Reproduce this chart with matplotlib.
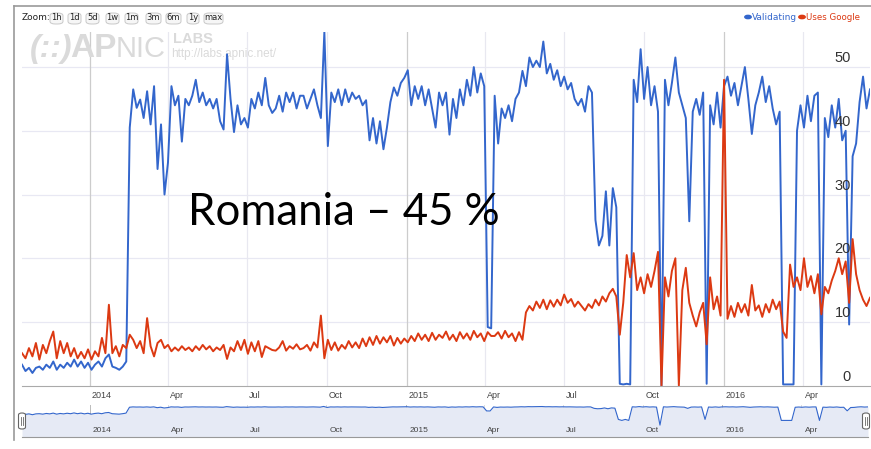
import numpy as np
import pandas as pd
import matplotlib
matplotlib.use("Agg")
import matplotlib.pyplot as plt
from matplotlib.patches import FancyBboxPatch, Circle
from matplotlib.lines import Line2D

# one reading every 4 days, starting mid October 2013
start_date = "2013-10-15"

validating = [
    3.3, 2.3, 2.8, 2.0, 2.8, 3.0, 2.5, 3.3, 2.8, 3.8,
    2.5, 3.3, 2.8, 3.6, 3.0, 4.1, 3.0, 3.8, 2.8, 3.6,
    2.5, 3.3, 3.8, 3.0, 4.3, 4.9, 3.0, 2.8, 2.5, 3.0,
    3.8, 40.5, 46.5, 43.6, 44.9, 42, 46.2, 41, 47, 34, 41,
    30, 35, 47, 44, 45.5, 38.3, 45, 44, 45.5, 48,
    44.5, 46, 44, 45, 43.5, 45, 41.5, 40.2, 52, 45,
    39.8, 44, 41, 42, 40.5, 45, 43.5, 46, 44, 48.3,
    44, 42.8, 43.5, 45.5, 43, 46, 44.5, 46, 43.5, 45.5,
    45.5, 43.5, 45, 46.5, 44, 42, 55.5, 37.6, 46, 44.5,
    46.5, 44, 46.5, 44.5, 46, 45, 45.5, 44, 44.8, 38.5,
    42, 38, 41.5, 37.1, 40.5, 44.5, 46.8, 45.5, 47.5, 48.3,
    49.5, 44, 47, 45, 47, 44, 46.5, 43.5, 40.5, 46,
    44, 46, 39.4, 45, 42, 46.5, 44, 48, 45.5, 50,
    46, 49, 47, 9.2, 9.0, 45.5, 38, 43.5, 42, 44,
    41.5, 45, 46, 49.4, 47, 51.5, 50, 51, 50, 54,
    49, 50.5, 48, 49.5, 47, 48.5, 46.5, 47.5, 45, 44,
    45, 43, 47, 46, 26, 22, 23.5, 30.5, 22, 31,
    28, 0.3, 0.2, 0.3, 0.2, 48, 44.5, 52.8, 45, 50,
    44, 47, 43, 0, 48, 44, 47.5, 51.5, 46, 44,
    42, 25.8, 43, 45, 42.5, 46, 0.3, 44, 41, 46,
    40.5, 47,
    48.5, 45.5, 47.5, 44, 47, 50, 45, 39.5, 44, 46,
    48.5, 44.5, 47, 43.5, 41, 43, 0.2, 0.2, 0.2, 0.2,
    40, 44, 40.5, 45.5, 41.5, 45.5, 46, 0.2, 42, 39,
    44, 40.5, 45, 38.5, 40, 9.6, 36, 38, 44.5, 48.5,
    43.5, 46.5,
]

uses_google = [
    5.1, 4.3, 5.9, 4.6, 6.7, 4.1, 6.4, 5.1, 7.0, 8.5,
    4.3, 7.0, 5.1, 6.7, 4.6, 5.9, 4.3, 5.3, 4.3, 5.7,
    4.1, 5.4, 4.6, 7.5, 5.1, 12.7, 5.1, 6.2, 4.6, 6.4,
    5.9, 8.0, 7.2, 5.9, 7.0, 5.1, 10.6, 6.2, 4.6, 6.7, 7.2,
    5.9, 6.4, 5.4, 6.0, 5.5, 6.2, 5.6, 6.0, 5.4, 6.2,
    5.6, 6.4, 5.7, 6.2, 5.4, 6.0, 5.6, 6.4, 4.2, 6.0,
    5.4, 7.0, 5.6, 7.2, 5.0, 6.8, 5.4, 7.0, 4.5, 6.2,
    5.9, 5.6, 5.5, 6.0, 7.0, 5.5, 6.2, 5.8, 6.5, 5.7,
    5.9, 6.4, 5.5, 6.8, 6.0, 11.0, 4.3, 7.2, 5.6, 6.8,
    5.5, 6.4, 5.8, 7.0, 6.0, 6.8, 5.9, 7.4, 6.2, 7.6,
    6.4, 7.8, 6.6, 7.6, 6.8, 7.8, 6.3, 7.5, 6.6, 7.4,
    6.8, 7.8, 7.0, 8.2, 7.2, 8.0, 7.0, 8.3, 7.2, 8.0,
    7.5, 8.5, 7.2, 8.0, 7.0, 8.4, 7.4, 8.2, 7.2, 8.6,
    7.6, 8.2, 7.0, 8.4, 7.8, 7.8, 8.4, 7.4, 8.6, 7.6,
    8.2, 7.0, 8.4, 7.2, 11.5, 12.5, 11.8, 13.2, 12.2, 13.5,
    12.0, 13.4, 12.4, 13.5, 12.6, 14.3, 13.0, 13.6, 12.4, 13.2,
    12.5, 11.8, 12.8, 12.2, 13.5, 12.6, 14, 13.2, 14.5, 15.2,
    14, 8.0, 13, 20.5, 17, 20.8, 15, 17, 14.5, 17.5,
    15.5, 18, 21, 0, 17, 14, 18, 20, 0, 15,
    18.5, 13, 11, 9.3, 11.5, 13, 6.5, 17, 12, 14,
    11, 48,
    10.5, 12.5, 10.8, 13, 11.5, 12.8, 11, 15.8, 11.8, 12.6,
    10.8, 12.8, 11.5, 13.5, 12, 13.2, 8.5, 7.5, 19, 15.5,
    17, 15, 20, 15.5, 17.2, 14.5, 17.5, 11.2, 15.5, 14.5,
    16.5, 18, 20, 17.5, 19.5, 13, 23, 17.5, 15, 13.5,
    12.5, 13.8,
]

y_ticks = [0, 10, 20, 30, 40, 50]
zoom_buttons = ["1h", "1d", "5d", "1w", "1m", "3m", "6m", "1y", "max"]
month_names = {1: None, 4: "Apr", 7: "Jul", 10: "Oct"}

dates = pd.date_range(start_date, periods=len(validating), freq="4D")
blue = "#3366cc"
red = "#dc3912"

W, H = 871, 449
fig = plt.figure(figsize=(W / 100, H / 100), dpi=100)


def fx(x):
    return x / W


def fy(y):
    return 1 - y / H


# main chart
ax = fig.add_axes([fx(22), fy(385.7), (870 - 22) / W, (385.7 - 32) / H])
ax.set_xlim(dates[0], dates[-1])
ax.set_ylim(0, 55.5)
for s in ["top", "right", "left"]:
    ax.spines[s].set_visible(False)
ax.spines["bottom"].set_color("#aaaaaa")
ax.set_xticks([])
ax.set_yticks([])

for v in y_ticks:
    if v > 0:
        ax.axhline(v, color="#e8e8f3", lw=0.9, zorder=0.3)
    ax.text(0.9776, v + 1.4, str(v), transform=ax.get_yaxis_transform(),
            ha="right", va="center", fontsize=10.5, color="#333333",
            family="Liberation Sans", zorder=5)

ticks = pd.date_range("2013-10-01", dates[-1], freq="QS")
ticks = [t for t in ticks if t >= dates[0]]
for t in ticks:
    col = "#cccccc" if t.month == 1 else "#e8e8f0"
    ax.axvline(t, color=col, lw=0.9, zorder=0.3)
    lab = str(t.year) if t.month == 1 else month_names[t.month]
    ax.text(t + pd.Timedelta(days=2), -0.027, lab, transform=ax.get_xaxis_transform(),
            ha="left", va="center", fontsize=6.5, color="#444444",
            family="Liberation Sans", clip_on=False)

ax.plot(dates, validating, color=blue, lw=1.4, zorder=2)
ax.plot(dates, uses_google, color=red, lw=1.4, zorder=2.1)

# APNIC watermark
wm = "#dadada"
ax.text(fx(30), fy(57), "(::)", transform=fig.transFigure, fontsize=23, color=wm,
        style="italic", weight="bold", family="Liberation Sans", zorder=0.5)
ax.text(fx(70), fy(57), "AP", transform=fig.transFigure, fontsize=24, color=wm,
        weight="bold", family="Liberation Sans", zorder=0.5)
ax.text(fx(116), fy(57), "NIC", transform=fig.transFigure, fontsize=21, color=wm,
        family="Liberation Sans", zorder=0.5)
ax.text(fx(173), fy(43), "LABS", transform=fig.transFigure, fontsize=10.5, color=wm,
        weight="bold", family="Liberation Sans", zorder=0.5)
ax.text(fx(171), fy(57), "http://labs.apnic.net/", transform=fig.transFigure,
        fontsize=8.5, color=wm, family="Liberation Sans", zorder=0.5)

# big title
fig.text(fx(188), fy(225), "Romania \u2013 45 %", fontsize=31.5, family="Lato",
         color="black", va="baseline")

# frame
fig.add_artist(Line2D([fx(14), 1], [fy(6), fy(6)], color="#9a9a9a", lw=1.2))
fig.add_artist(Line2D([fx(14), fx(14)], [fy(6), fy(440)], color="#9a9a9a", lw=1.2))

# zoom buttons
fig.text(fx(22), fy(18), "Zoom:", fontsize=6.5, va="center", color="#222222")
bx = [50, 68, 86, 106, 125, 146, 166, 187, 204]
bw = [13, 13, 13, 13, 13, 15, 15, 12, 19]
for name, x0, w in zip(zoom_buttons, bx, bw):
    fig.add_artist(FancyBboxPatch((fx(x0), fy(24)), fx(w), 11 / H,
                                  boxstyle="round,pad=0,rounding_size=0.006",
                                  fc="#f6f6f6", ec="#c8c8c8", lw=0.7))
    fig.text(fx(x0 + w / 2), fy(18), name, fontsize=6, ha="center", va="center",
             color="#222222")

# legend
fig.add_artist(Circle((fx(748), fy(17)), 3.2 / W, color=blue))
fig.text(fx(752), fy(17), "Validating", fontsize=6.5, color=blue, va="center")
fig.add_artist(Circle((fx(802), fy(17)), 3.2 / W, color=red))
fig.text(fx(806), fy(17), "Uses Google", fontsize=6.2, color=red, va="center")

# range selector strip
ax2 = fig.add_axes([fx(22), fy(437), (868 - 22) / W, (437 - 405) / H])
ax2.set_xlim(dates[0], dates[-1])
ax2.set_yscale("log")
ax2.set_ylim(2.5e-4, 100)
ax2.set_xticks([])
ax2.set_yticks([])
ax2.minorticks_off()
for s in ["top", "right", "left"]:
    ax2.spines[s].set_visible(False)
ax2.spines["bottom"].set_color("#999999")
over = np.maximum(np.array(validating), 0.03)
ax2.fill_between(dates, over, 2.5e-4, color="#e6eaf5", lw=0)
ax2.plot(dates, over, color=blue, lw=0.8)
for t in ticks:
    col = "#bbbbbb" if t.month == 1 else "#dddddd"
    ax2.axvline(t, color=col, lw=0.7, zorder=0.3)
    lab = str(t.year) if t.month == 1 else month_names[t.month]
    ax2.text(t + pd.Timedelta(days=4), 0.2, lab, transform=ax2.get_xaxis_transform(),
             ha="left", va="center", fontsize=6, color="#444444",
             family="Liberation Sans")

for hx in [22, 866]:
    fig.add_artist(FancyBboxPatch((fx(hx - 3.5), fy(429)), fx(7), 16 / H,
                                  boxstyle="round,pad=0,rounding_size=0.004",
                                  fc="white", ec="#666666", lw=0.8))
    for dx in [-1, 1]:
        fig.add_artist(Line2D([fx(hx + dx), fx(hx + dx)], [fy(425), fy(417)],
                              color="#666666", lw=0.6))

fig.savefig("out.png", dpi=100)
